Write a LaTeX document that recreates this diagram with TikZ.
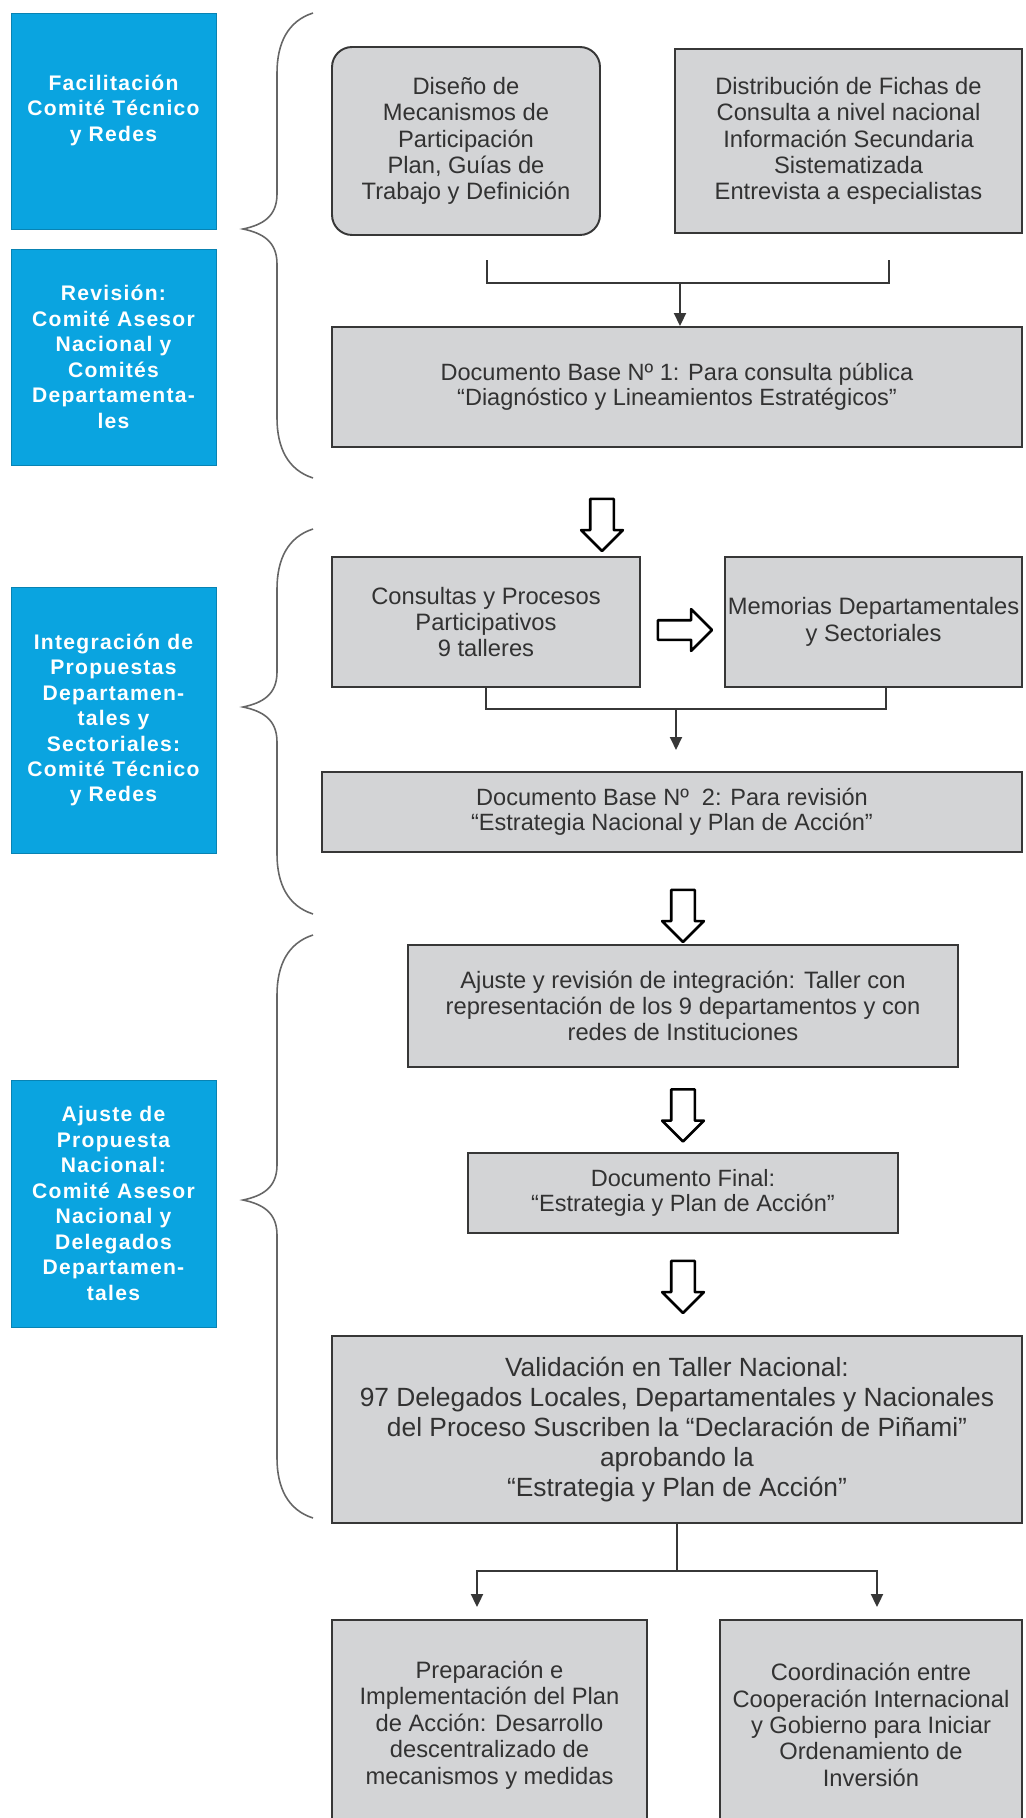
\documentclass[tikz,border=0pt]{standalone}
\usepackage{fontspec}
\setmainfont{Liberation Sans}
\newfontfamily\bluefont[LetterSpace=6]{Liberation Sans}
\usetikzlibrary{positioning,calc,shapes.arrows,arrows.meta}
\definecolor{cajaazul}{RGB}{10,164,224}
\definecolor{cajagris}{RGB}{211,212,214}
\definecolor{borde}{RGB}{55,55,55}
\definecolor{texto}{RGB}{50,50,50}

\begin{document}
\begin{tikzpicture}[x=0.02cm,y=-0.02cm,>={Triangle[length=0.26cm,width=0.24cm]},
        etapa/.style={draw=cajaazul!80!black, fill=cajaazul, text=white, align=center,
                minimum width=4.1cm, inner sep=0pt, font=\bluefont\bfseries\fontsize{12}{14.5}\selectfont},
        caja/.style={draw=borde, line width=1.1pt, fill=cajagris, text=texto, align=center,
                inner sep=2pt, font=\fontsize{13.5}{15}\selectfont},
        flecha/.style={single arrow, draw=black, line width=1.5pt, fill=white, line join=round,
                inner sep=0.21cm, single arrow head extend=0.18cm, minimum width=0pt,
                minimum height=1.04cm, shape border rotate=270},
        enlace/.style={draw=borde, line width=1.1pt},
        llave/.style={draw=black!60, line width=0.9pt}]
        \useasboundingbox (0,0) rectangle (1025,1818);
        \clip (0,0) rectangle (1025,1818);

        % draw the blue boxes on the left
        \node[etapa, minimum height=4.32cm] (facil) at (113.5,121) {Facilitación\\Comité Técnico\\y Redes\\\mbox{}};
        \node[etapa, minimum height=4.32cm] (revis) at (113.5,357) {Revisión:\\Comité Asesor\\Nacional y\\Comités\\Departamenta-\\les};
        \node[etapa, minimum height=5.32cm] (integ) at (113.5,720) {Integración de\\Propuestas\\Departamen-\\tales y\\Sectoriales:\\Comité Técnico\\y Redes};
        \node[etapa, minimum height=4.94cm] (ajprop) at (113.5,1203.5) {Ajuste de\\Propuesta\\Nacional:\\Comité Asesor\\Nacional y\\Delegados\\Departamen-\\tales};

        % draw the braces
        \foreach \arriba/\punta/\abajo in {13/229/478, 529/707/914, 935/1200/1518} {
                \draw[llave] (313,\arriba) .. controls (288,\arriba+8) and (277,\arriba+30) .. (277,\arriba+60)
                        -- (277,\punta-35) .. controls (277,\punta-12) and (262,\punta-4) .. (243,\punta)
                        .. controls (262,\punta+4) and (277,\punta+12) .. (277,\punta+35)
                        -- (277,\abajo-60) .. controls (277,\abajo-30) and (288,\abajo-8) .. (313,\abajo);
        }

        % first stage
        \node[caja, rounded corners=0.4cm, minimum width=5.36cm, minimum height=3.76cm] (diseno) at (466,141)
                {Diseño de\\Mecanismos de\\Participación\\Plan, Guías de\\Trabajo y Definición};
        \node[caja, minimum width=6.94cm, minimum height=3.68cm] (distrib) at (848.5,141)
                {Distribución de Fichas de\\Consulta a nivel nacional\\Información Secundaria\\Sistematizada\\Entrevista a especialistas};
        \node[caja, minimum width=13.8cm, minimum height=2.4cm, font=\fontsize{13.4}{14.5}\selectfont] (doc1) at (677,387)
                {Documento Base Nº 1: Para consulta pública\\“Diagnóstico y Lineamientos Estratégicos”};
        \coordinate (t1) at (487,260);
        \coordinate (t2) at (889,260);
        \coordinate (j1) at (680,283);
        \draw[enlace] (t1) |- (j1) -| (t2);
        \draw[enlace,->] (j1) -- (j1 |- doc1.north);

        \node[flecha] (f1) at (602,519) {};

        % second stage
        \node[caja, minimum width=6.16cm, minimum height=2.6cm] (consul) at (486,622)
                {Consultas y Procesos\\Participativos\\9 talleres};
        \node[caja, minimum width=5.94cm, minimum height=2.6cm, inner sep=0pt] (memor) at (873.5,622)
                {Memorias Departamentales\\y Sectoriales};
        \node[flecha, shape border rotate=0, inner sep=0.17cm, single arrow head extend=0.22cm, minimum height=1.08cm] (f2) at (680,630) {};
        \node[caja, minimum width=14cm, minimum height=1.6cm, font=\fontsize{13.4}{14.5}\selectfont] (doc2) at (672,812)
                {Documento Base Nº~ 2: Para revisión\\“Estrategia Nacional y Plan de Acción”};
        \coordinate (j2) at (676,709);
        \draw[enlace] (consul.south) |- (j2) -| ([xshift=0.25cm]memor.south);
        \draw[enlace,->] (j2) -- ++(0,41);

        \node[flecha] (f3) at (683,910) {};

        % third stage
        \node[caja, minimum width=11cm, minimum height=2.44cm] (ajuste) at (683,1006)
                {Ajuste y revisión de integración: Taller con\\representación de los 9 departamentos y con\\redes de Instituciones};
        \node[flecha] (f4) at (683,1109.5) {};
        \node[caja, minimum width=8.6cm, minimum height=1.6cm, font=\fontsize{13.4}{14}\selectfont] (final) at (683,1193)
                {Documento Final:\\“Estrategia y Plan de Acción”};
        \node[flecha] (f5) at (683,1281) {};
        \node[caja, minimum width=13.8cm, minimum height=3.74cm, font=\fontsize{15}{17}\selectfont] (valid) at (677,1429.5)
                {Validación en Taller Nacional:\\97 Delegados Locales, Departamentales y Nacionales\\del Proceso Suscriben la “Declaración de Piñami”\\aprobando la\\“Estrategia y Plan de Acción”};

        % last two boxes
        \node[caja, minimum width=6.3cm, minimum height=4.2cm] (prep) at (489.5,1725)
                {Preparación e\\Implementación del Plan\\de Acción: Desarrollo\\descentralizado de\\mecanismos y medidas};
        \node[caja, minimum width=6.04cm, minimum height=4.2cm] (coord) at (871,1725)
                {Coordinación entre\\Cooperación Internacional\\y Gobierno para Iniciar\\Ordenamiento de\\Inversión};
        \coordinate (j3) at (677,1571);
        \draw[enlace] (valid.south) -- (j3);
        \draw[enlace,->] (j3) -| ([xshift=-0.25cm,yshift=0.24cm]prep.north);
        \draw[enlace,->] (j3) -| ([xshift=0.12cm,yshift=0.24cm]coord.north);
\end{tikzpicture}
\end{document}
